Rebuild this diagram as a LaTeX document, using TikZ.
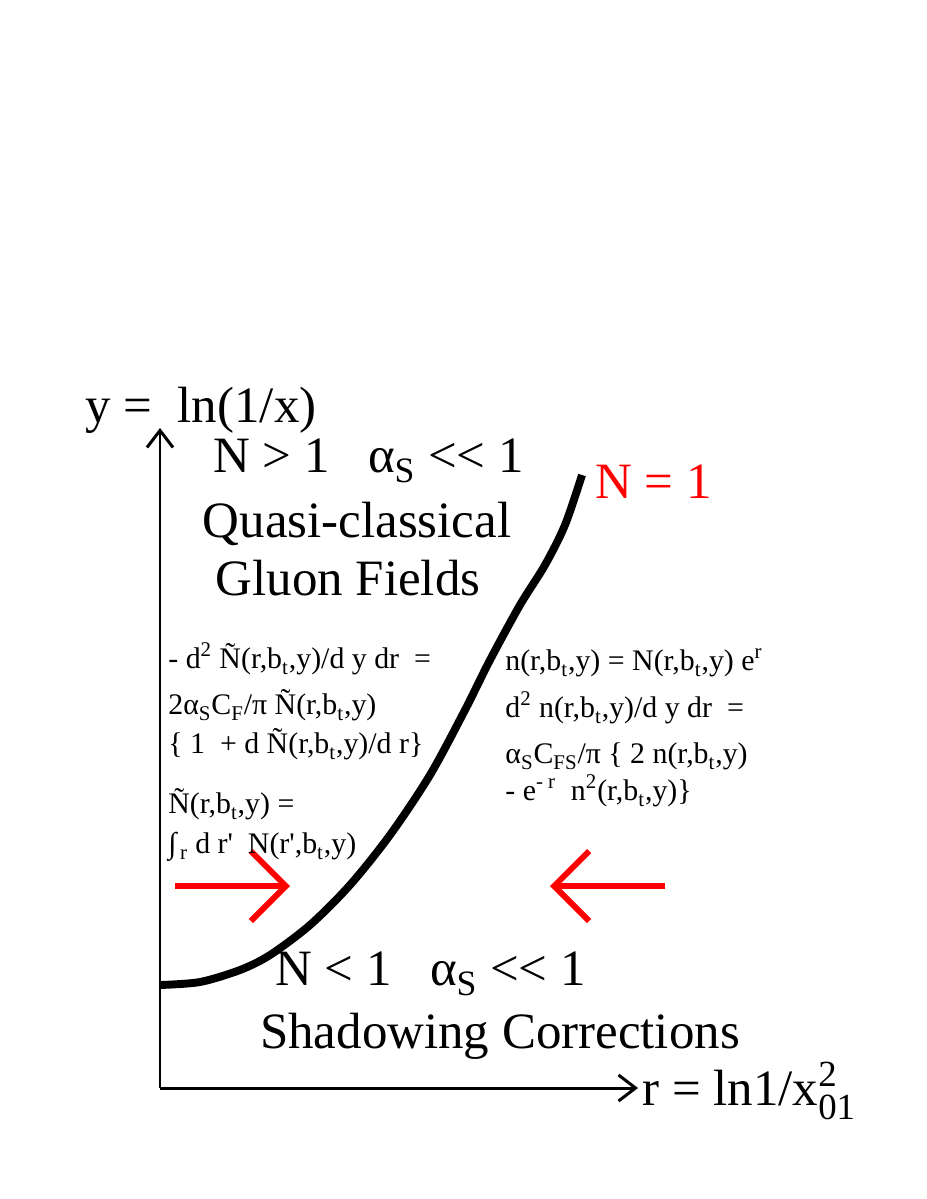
\documentclass[tikz,border=0pt]{standalone}
\usepackage{fontspec}
\setmainfont{Liberation Serif}
\usetikzlibrary{arrows.meta}
\newcommand{\lo}[1]{\textsubscript{\raisebox{-0.25ex}{#1}}}
\newcommand{\bt}{b\lo{t}}
\newcommand{\Nt}{Ñ}
\newcommand{\mlt}{<\kern0pt<}
\newcommand{\pr}{\textquotesingle}
\begin{document}
\begin{tikzpicture}[x=0.02cm,y=-0.02cm]
\useasboundingbox (0,0) rectangle (926,1199);
\tikzset{
  big/.style={font=\fontsize{29}{33}\selectfont,inner sep=0pt},
  eqn/.style={font=\fontsize{17}{20}\selectfont,inner sep=0pt,anchor=base west},
  axis/.style={line width=1.7pt,-{Straight Barb[length=0.34cm,width=0.52cm]}},
  flow/.style={color=red,line width=3.4pt,-{Straight Barb[length=0.7cm,width=1.4cm]}}
}
\coordinate (O) at (160,1088);
\coordinate (Ytop) at (160,428);
\coordinate (Xend) at (638,1088);
\coordinate (A1) at (175,886);
\coordinate (A2) at (290,886);
\coordinate (B1) at (665,886);
\coordinate (B2) at (550,886);
% critical line N=1
\draw[line width=4.5pt] plot[smooth] coordinates {(160,985) (200,982) (240,970) (270,955) (310,925) (350,885) (390,835) (430,775) (465,710) (490,660) (520,605) (545,565) (565,525) (582,475)};
\draw[axis] (O)--(Ytop);
\draw[axis] (O)--(Xend);
\draw[flow] (A1)--(A2);
\draw[flow] (B1)--(B2);
\node (ylab) at (85,422) [big,anchor=base west] {y =\ \ ln(1/x)};
\node (xlab) at (642,1105) [big,anchor=base west] {r = ln1/x\rlap{\raisebox{0.8ex}{\fontsize{21}{21}\selectfont 2}}\raisebox{-0.6ex}{\fontsize{21}{21}\selectfont 01}};
\node (crit) at (595,498) [big,anchor=base west,color=red] {N = 1};
\node (hi) at (213,472) [big,anchor=base west] {N > 1\ \ \ α\lo{S} \mlt\ 1};
\node (qc) at (357,537) [big,anchor=base] {Quasi-classical};
\node (gf) at (348,595) [big,anchor=base] {Gluon Fields};
\node (lo) at (275,985) [big,anchor=base west] {N < 1\ \ \ α\lo{S} \mlt\ 1};
\node (sc) at (500,1048) [big,anchor=base] {Shadowing Corrections};
% left equations
\node (l1) at (168,668) [eqn] {- d\textsuperscript{2} \Nt(r,\bt,y)/d y dr\ \ =};
\node (l2) at (168,714) [eqn] {2α\lo{S}C\lo{F}/π \Nt(r,\bt,y)};
\node (l3) at (168,753) [eqn] {\{ 1\ \ + d \Nt(r,\bt,y)/d r\}};
\node (l4) at (168,813) [eqn] {\Nt(r,\bt,y) =};
\node (l5) at (168,853) [eqn] {∫\lo{\,r} d r\pr\ \ N(r\pr,\bt,y)};
% right equations
\node (r1) at (505,670) [eqn] {n(r,\bt,y) = N(r,\bt,y) e\textsuperscript{r}};
\node (r2) at (505,717) [eqn] {d\textsuperscript{2} n(r,\bt,y)/d y dr\ \ =};
\node (r3) at (505,763) [eqn] {α\lo{S}C\lo{FS}/π \{ 2 n(r,\bt,y)};
\node (r4) at (505,800) [eqn] {- e\textsuperscript{- r}\ \ n\textsuperscript{2}(r,\bt,y)\}};
\end{tikzpicture}
\end{document}
